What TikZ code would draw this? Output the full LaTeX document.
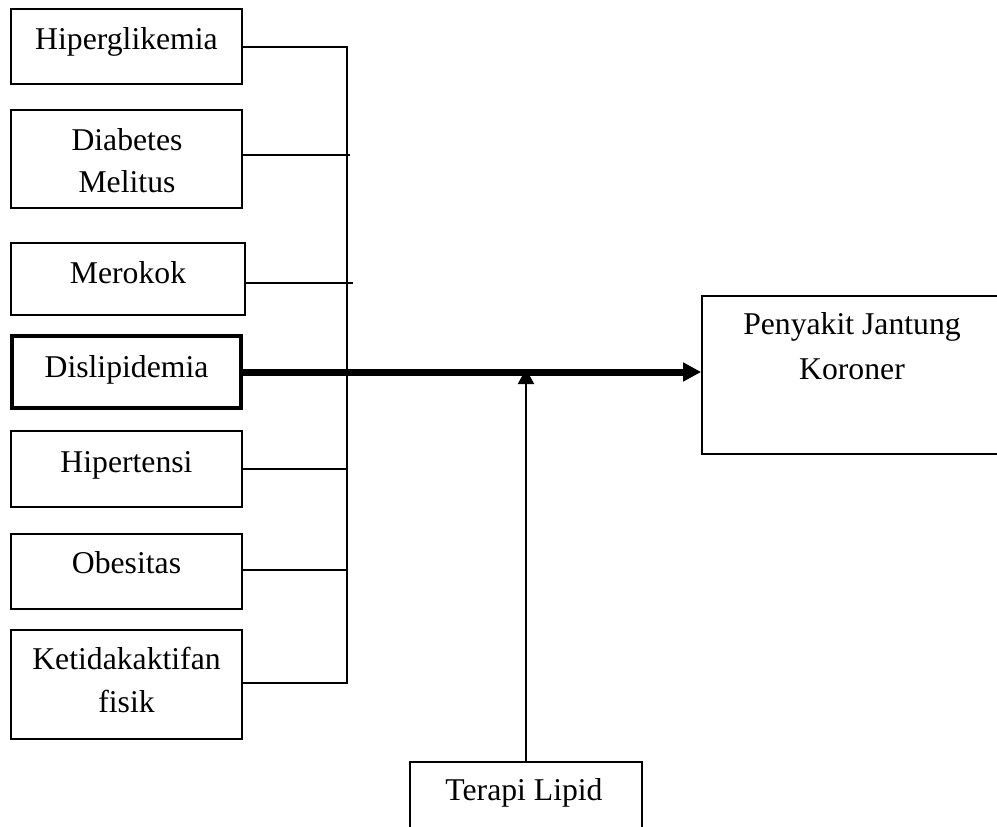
\documentclass[tikz,border=0pt]{standalone}
\usepackage{fontspec}
\setmainfont{Liberation Serif}
\usetikzlibrary{arrows.meta}
\begin{document}
\begin{tikzpicture}[x=1pt,y=-1pt,
  box/.style={draw, line width=1.7pt, minimum width=231pt, inner sep=0pt},
  boldbox/.style={box, line width=4.5pt, minimum width=229pt},
  lbl/.style={font=\fontsize{31.7}{42}\selectfont, align=center, inner sep=0pt, anchor=base},
  thinline/.style={line width=1.7pt},
  mainarrow/.style={line width=7pt, -{Triangle[length=18pt,width=18pt]}},
  modarrow/.style={line width=2.2pt, -{Triangle[length=15pt,width=16pt]}}
]
\useasboundingbox (0,0) rectangle (997,827);
% boxes
\node[box, minimum height=75pt] (hip) at (126.5,46.5) {};
\node[lbl] (hipT) at (126.5,49) {Hiperglikemia};
\node[box, minimum height=98pt] (dm) at (126.5,159) {};
\node[lbl] (dmT) at (127,192) {Diabetes\\Melitus};
\node[box, minimum width=234pt, minimum height=72pt] (mer) at (128,279) {};
\node[lbl] (merT) at (128,283) {Merokok};
\node[boldbox, minimum height=72pt] (dis) at (126.5,372) {};
\node[lbl] (disT) at (126.5,377) {Dislipidemia};
\node[box, minimum height=76pt] (hyp) at (126.5,469) {};
\node[lbl] (hypT) at (126.5,472) {Hipertensi};
\node[box, minimum height=75pt] (obe) at (126.5,571.5) {};
\node[lbl] (obeT) at (126.5,573) {Obesitas};
\node[box, minimum height=109pt] (ket) at (126.5,684.5) {};
\node[lbl, font=\fontsize{31.7}{43}\selectfont] (ketT) at (126.5,712) {Ketidakaktifan\\fisik};
\node[box, minimum width=308pt, minimum height=158pt] (pjk) at (856,375) {};
\node[lbl, font=\fontsize{31.7}{45}\selectfont] (pjkT) at (852,379) {Penyakit Jantung\\Koroner};
\node[box, minimum width=232pt, minimum height=118pt] (ter) at (526,821) {};
\node[lbl] (terT) at (524,800) {Terapi Lipid};
% bus
\coordinate (busT) at (347,47);
\coordinate (busB) at (347,683);
\coordinate (dmE) at (350,155);
\coordinate (merE) at (353,283);
\coordinate (hypE) at (348,469);
\coordinate (obeE) at (347,570);
\draw[thinline] (hip.east |- busT) -- (busT) -- (busB) -- (ket.east |- busB);
\draw[thinline] (dm.east |- dmE) -- (dmE);
\draw[thinline] (mer.east |- merE) -- (merE);
\draw[thinline] (hyp.east |- hypE) -- (hypE);
\draw[thinline] (obe.east |- obeE) -- (obeE);
% arrows
\draw[mainarrow] (dis.east) -- (pjk.west |- dis.east);
\path (ter.north |- dis.east) ++(0,-3) coordinate (terTip);
\draw[modarrow] (ter.north) -- (terTip);
\end{tikzpicture}
\end{document}
